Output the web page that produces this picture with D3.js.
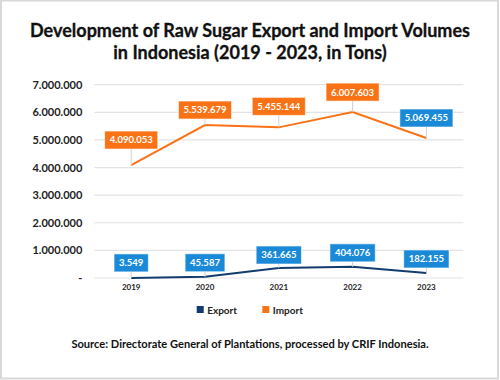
<!DOCTYPE html>
<html><head><meta charset="utf-8">
<script src="https://cdn.jsdelivr.net/npm/d3@7"></script>
<style>
html,body{margin:0;padding:0;background:#fff;}
text{font-family:Lato,"Open Sans",sans-serif;font-weight:bold;}
</style></head>
<body><svg id="c" width="500" height="380"></svg>
<script>
const years = ["2019","2020","2021","2022","2023"];
const exportValues = [3549, 45587, 361665, 404076, 182155];
const importValues = [4090053, 5539679, 5455144, 6007603, 5069455];
const yTicks = [0,1000000,2000000,3000000,4000000,5000000,6000000,7000000];
const seriesNames = ["Export","Import"];
const titleLines = ["Development of Raw Sugar Export and Import Volumes","in Indonesia (2019 - 2023, in Tons)"];
const sourceText = "Source: Directorate General of Plantations, processed by CRIF Indonesia.";

(function(){
const W=500,H=380;
const svg=d3.select("#c");
svg.append("rect").attr("x",1).attr("y",0.5).attr("width",W-3).attr("height",H-2).attr("fill","#fff").attr("stroke","#d9d9d9").attr("stroke-width",2);

const fmt = v => v===0 ? "-" : d3.format(",")(v).replace(/,/g,".");
const pLeft=94.3,pRight=463.3,pTop=84.7,pBottom=278;
const x=d3.scaleBand().domain(years).range([pLeft,pRight]);
const y=d3.scaleLinear().domain([0,7000000]).range([pBottom,pTop]);

svg.append("g").selectAll("text").data(titleLines).join("text")
  .attr("x",250).attr("y",(d,i)=>37+i*21.5).attr("text-anchor","middle")
  .attr("font-size",18).attr("fill","#111").attr("stroke","#111").attr("stroke-width",0.3).text(d=>d);

svg.append("g").selectAll("line").data(yTicks).join("line")
  .attr("x1",pLeft).attr("x2",pRight).attr("y1",d=>y(d)).attr("y2",d=>y(d))
  .attr("stroke","#e3e3e3").attr("stroke-width",1.2);

const ya=svg.append("g").attr("transform",`translate(${pLeft},0)`)
  .call(d3.axisLeft(y).tickValues(yTicks).tickFormat(fmt).tickSize(0).tickPadding(12));
ya.select(".domain").remove();
ya.selectAll("text").attr("font-size",11).attr("fill","#222").attr("font-family","Lato").attr("font-weight","bold");

const xa=svg.append("g").attr("transform",`translate(0,${pBottom})`)
  .call(d3.axisBottom(x).tickSize(0).tickPadding(6));
xa.select(".domain").remove();
xa.selectAll("text").attr("font-size",8).attr("fill","#222").attr("font-family","Lato").attr("font-weight","bold");

const cx=d=>x(d)+x.bandwidth()/2;
const line=d3.line().x(d=>cx(d.year)).y(d=>y(d.v));
const exportData=years.map((yr,i)=>({year:yr,v:exportValues[i]}));
const importData=years.map((yr,i)=>({year:yr,v:importValues[i]}));

const importGap=[16,6,12,11,11];
const exportGap=[6,5,4,5,5];
const importBoxColors=["#f97316","#f97316","#f97316","#f97316","#1a8ad8"];

function labels(data,gaps,colors){
  const g=svg.append("g");
  data.forEach((d,i)=>{
    const px=cx(d.year), py=y(d.v);
    const bh=18, bb=py-gaps[i];
    g.append("line").attr("x1",px).attr("x2",px).attr("y1",bb).attr("y2",py).attr("stroke","#d0d0d0").attr("stroke-width",1);
    const t=g.append("text").attr("x",px).attr("y",bb-bh/2+3.4).attr("text-anchor","middle")
      .attr("font-size",9.5).attr("fill","#fff").text(fmt(d.v));
    const w=t.node().getComputedTextLength()+10;
    g.insert("rect","text").attr("x",px-w/2).attr("y",bb-bh).attr("width",w).attr("height",bh)
      .attr("fill",colors[i]).attr("stroke","#ffffff").attr("stroke-opacity",0.6).attr("stroke-width",1);
  });
}

svg.append("path").datum(importData).attr("d",line).attr("fill","none").attr("stroke","#f97316").attr("stroke-width",2);
svg.append("path").datum(exportData).attr("d",line).attr("fill","none").attr("stroke","#123c6e").attr("stroke-width",2);

labels(importData,importGap,importBoxColors);
labels(exportData,exportGap,years.map(()=>"#1a8ad8"));

const lg=svg.append("g");
const legColors=["#123c6e","#f97316"];
const legX=[196.7,262.3];
seriesNames.forEach((s,i)=>{
  lg.append("rect").attr("x",legX[i]).attr("y",306).attr("width",7).attr("height",7).attr("fill",legColors[i]);
  lg.append("text").attr("x",legX[i]+10.5).attr("y",313.5).attr("font-size",10).attr("fill","#222").text(s);
});

svg.append("text").attr("x",250).attr("y",347.5).attr("text-anchor","middle").attr("font-size",11.1).attr("fill","#111").text(sourceText);
})();
</script></body></html>
